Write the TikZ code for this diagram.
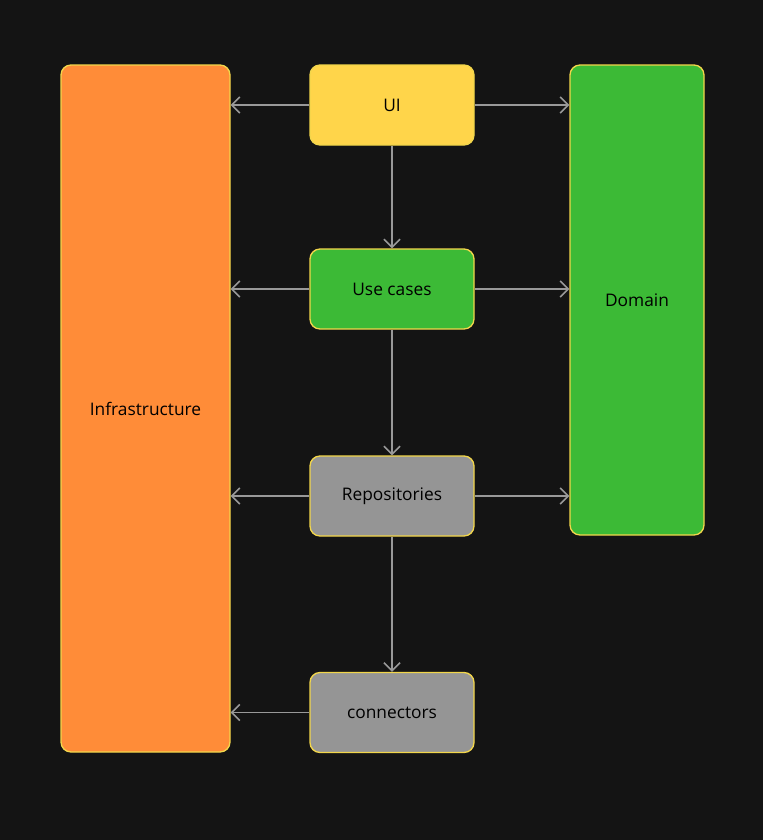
\documentclass[tikz,border=0pt]{standalone}
\usepackage{fontspec}
\setmainfont{Open Sans}
\usetikzlibrary{arrows.meta}
\definecolor{bgdark}{HTML}{141414}
\definecolor{layerorange}{HTML}{FF8C38}
\definecolor{layeryellow}{HTML}{FFD54A}
\definecolor{layergreen}{HTML}{3CBA36}
\definecolor{layergray}{HTML}{959595}
\definecolor{edgeyellow}{HTML}{F2D64B}
\tikzset{
  layer/.style={rectangle, rounded corners=7.5pt, draw=edgeyellow, line width=1pt, text centered, font=\fontsize{13}{15}\selectfont, text=black},
  small/.style={layer, minimum width=123pt, minimum height=60pt},
  arrow/.style={draw=gray!80, line width=1.2pt, -{Straight Barb[length=6pt, width=12pt]}}
}
\begin{document}
\begin{tikzpicture}[x=0.75pt, y=-0.75pt]
\fill[bgdark] (0,0) rectangle (763,840);

% Bloques
\node (infra) [layer, fill=layerorange, minimum width=126.75pt, minimum height=515.25pt] at (145.5,408.5) {Infrastructure};
\node (domain) [layer, fill=layergreen, minimum width=100.5pt, minimum height=352.5pt] at (637,300) {Domain};
\node (ui) [small, fill=layeryellow] at (392,105) {UI};
\node (usecases) [small, fill=layergreen] at (392,289) {Use cases};
\node (repos) [small, fill=layergray] at (392,496) {Repositories};
\node (conn) [small, fill=layergray] at (392,712.5) {connectors};

% Conexiones
\draw [arrow] (ui) -- (usecases);
\draw [arrow] (usecases) -- (repos);
\draw [arrow] (repos) -- (conn);
\draw [arrow] (ui.west) -- (infra.east |- ui.west);
\draw [arrow] (ui.east) -- (domain.west |- ui.east);
\draw [arrow] (usecases.west) -- (infra.east |- usecases.west);
\draw [arrow] (usecases.east) -- (domain.west |- usecases.east);
\draw [arrow] (repos.west) -- (infra.east |- repos.west);
\draw [arrow] (repos.east) -- (domain.west |- repos.east);
\draw [arrow] (conn.west) -- (infra.east |- conn.west);
\end{tikzpicture}
\end{document}
